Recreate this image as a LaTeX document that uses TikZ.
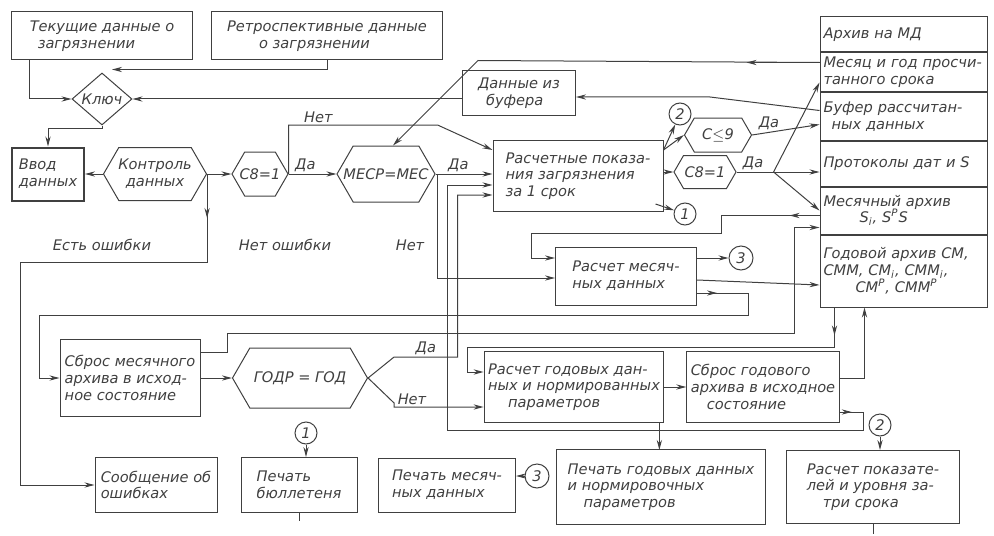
\documentclass[tikz,border=0pt]{standalone}
\usepackage{fontspec}
\setmainfont{DejaVu Sans}
\usepackage{tikz}
\usetikzlibrary{arrows.meta, shapes.geometric, shapes.symbols, positioning, calc}

\begin{document}
\begin{tikzpicture}[
    x=0.5pt, y=-0.5pt,
    line width=0.5pt, color=black!75,
    every node/.style={font=\fontsize{7.3}{8.4}\selectfont\itshape},
    box/.style={draw, rectangle, align=left, inner sep=2pt},
    abox/.style={box, minimum width=83.5pt, text width=80pt, inner xsep=1.5pt, inner ysep=1pt},
    hexa/.style={draw, signal, signal to=east and west, signal pointer angle=120,
        inner xsep=-4pt, inner ysep=1pt, align=center},
    keyd/.style={draw, diamond, aspect=1.15, inner sep=0.5pt, minimum width=30pt, minimum height=26pt},
    conn/.style={draw, circle, minimum size=11pt, inner sep=0pt},
    lbl/.style={inner sep=1pt},
    arr/.style={-{Stealth[length=5pt, width=2.6pt]}}
]
\useasboundingbox (0,0) rectangle (994,535);

% Sources and key
\node[box, minimum width=90.5pt, minimum height=24pt] (tek) at (102,36) {Текущие данные о\\\hspace{4pt}загрязнении};
\node[box, minimum width=115.5pt, minimum height=24pt] (retro) at (327,36) {Ретроспективные данные\\\hspace{16pt}о загрязнении};
\node[keyd] (kluch) at (102,99) {Ключ};
\node[box, minimum width=56.5pt, minimum height=22.5pt] (bufdata) at (519,93) {Данные из\\\hspace{4pt}буфера};

% Main row
\node[box, line width=1pt, minimum width=36pt, minimum height=26.5pt] (vvod) at (48,174) {Ввод\\данных};
\node[hexa, minimum width=51.5pt, minimum height=26.5pt] (kontr) at (155,174) {Контроль\\данных};
\node[hexa, minimum width=28pt, minimum height=22pt] (cA) at (260,174) {С8=1};
\node[hexa, inner xsep=-8pt, minimum width=49pt, minimum height=28pt] (mesr) at (386,174) {МЕСР=МЕС};
\node[box, minimum width=85pt, minimum height=35.5pt] (raschet) at (578,176) {Расчетные показа-\\ния загрязнения\\за 1 срок};
\node[conn] (c2a) at (680,114) {2};
\node[hexa, minimum width=33.5pt, minimum height=17pt] (cle9) at (718,135) {С$\le$9};
\node[hexa, minimum width=31pt, minimum height=16.5pt] (cB) at (705,172) {С8=1};
\node[conn] (c1a) at (685,214) {1};

% Archive
\node[abox, minimum height=17.5pt] (arch1) at (903.5,34.5) {Архив на МД};
\node[abox, minimum height=19.5pt, below=0pt of arch1] (arch2) {Месяц и год просчи-\\танного срока};
\node[abox, minimum height=23.5pt, below=0pt of arch2] (arch3) {Буфер рассчитан-\\\hspace{4pt}ных данных};
\node[abox, minimum height=22.5pt, below=0pt of arch3] (arch4) {Протоколы дат и S};
\node[abox, minimum height=23.5pt, below=0pt of arch4] (arch5) {Месячный архив\\\hspace{18pt}S\textsubscript{i}, S\textsuperscript{P}S};
\node[abox, minimum height=36pt, below=0pt of arch5] (arch6) {Годовой архив СМ,\\СММ, СМ\textsubscript{i}, СММ\textsubscript{i},\\\hspace{16pt}СМ\textsuperscript{P}, СММ\textsuperscript{P}};

% Monthly and yearly processing
\node[box, minimum width=70.5pt, minimum height=29pt] (mesdata) at (626,276) {Расчет месяч-\\ных данных};
\node[conn, minimum size=12pt] (c3a) at (741,258) {3};
\node[box, minimum width=70pt, minimum height=38.5pt] (sbrosm) at (130,378) {Сброс месячного\\архива в исход-\\ное состояние};
\node[hexa, minimum width=67.5pt, minimum height=30pt] (godr) at (300,378) {ГОДР = ГОД};
\node[box, minimum width=88pt, minimum height=35.5pt] (godrasch) at (574,387) {Расчет годовых дан-\\ных и нормированных\\\hspace{10pt}параметров};
\node[box, minimum width=75.5pt, minimum height=35.5pt] (sbrosg) at (763,387) {Сброс годового\\архива в исходное\\\hspace{8pt}состояние};
\node[conn] (c2b) at (880,425) {2};

% Outputs
\node[box, minimum width=61pt, minimum height=27.5pt] (err) at (156,485) {Сообщение об\\ошибках};
\node[conn] (c1b) at (306,433) {1};
\node[box, minimum width=58pt, minimum height=27.5pt] (bull) at (299,485) {Печать\\бюллетеня};
\node[box, minimum width=68.5pt, minimum height=27pt] (pmes) at (447,485) {Печать месяч-\\ных данных};
\node[conn, minimum size=12pt] (c3b) at (537,476) {3};
\node[box, minimum width=104.5pt, minimum height=37.5pt] (pgod) at (661,487) {Печать годовых данных\\и нормировочных\\\hspace{8pt}параметров};
\node[box, minimum width=86.5pt, minimum height=36.5pt] (ppok) at (873,487) {Расчет показате-\\лей и уровня за-\\\hspace{8pt}три срока};

% Free labels
\node[lbl] (oshyes) at (102,245) {Есть ошибки};
\node[lbl] (oshno) at (285,245) {Нет ошибки};
\node[lbl] (netb) at (410,245) {Нет};

% Key
\draw[arr] ($(tek.south west)+(18,0)$) |- (kluch.west);
\draw[arr] (retro.south) |- ($(kluch.north)+(10,-3)$);
\draw[arr] (bufdata.west |- kluch.east) -- (kluch.east);
\draw[arr] (kluch.south) -- ++(0,3) -| (vvod.north);

% Main row
\draw[arr] (kontr.west) -- (vvod.east);
\draw[arr] (kontr.east) -- (cA.west);
\draw[arr] (kontr.east) -- ++(0,44);
\draw[arr] (kontr.east) -- ++(0,88) -| ($(err.west)+(-74,-60)$) |- (err.west);
\draw[arr] (cA.east) -- node[lbl, above, pos=0.35] (daA) {Да} (mesr.west);
\draw[arr] (cA.east) -- ++(0,-49) -- node[lbl, above, pos=0.2] (netA) {Нет} ++(149,0) -- ($(raschet.north west)+(0,10)$);
\draw[arr] (mesr.east) -- node[lbl, above, pos=0.4] (daB) {Да} (mesr.east -| raschet.west);
\draw[arr] (mesr.east) -- ++(2,0) |- ($(mesdata.west)+(0,2)$);

% Outputs of the current calculation
\draw[arr] ($(raschet.north east)+(0,10)$) -- (c2a);
\draw[arr] ($(raschet.north east)+(0,10)$) -- (cle9.west);
\draw[arr] (raschet.east |- cB.west) -- (cB.west);
\draw[arr] ($(raschet.south east)+(-8,-8)$) -- (c1a);
\draw[arr] (cle9.east) -- node[lbl, above, pos=0.25] (daC) {Да} ($(arch3.west)+(0,8)$);
\draw[arr] (cB.east) -- node[lbl, above, pos=0.2] (daD) {Да} (cB.east -| arch4.west);
\coordinate (split) at ($(cB.east)+(37,0)$);
\draw[arr] (split) -- (arch5.west);
\draw[arr] (split) -- ($(arch2.west)+(0,10)$);

% Archive back to key and МЕСР
\draw[arr] ($(arch3.west)+(0,-6)$) -- ($(bufdata.east)+(134,4)$) -- ($(bufdata.east)+(0,4)$);
\draw[arr] ($(arch2.west)+(0,-10)$) -- ++(-73,0);
\draw[arr] ($(arch2.west)+(0,-10)$) -- ($(mesr.north)+(92,-85)$) -- ($(mesr.north)+(7,0)$);

% Monthly data
\draw[arr] ($(arch5.west)+(0,5)$) -- ++(-30,0);
\draw[arr] ($(arch5.west)+(0,5)$) -- ++(-98,0) -- ++(0,18) -| ($(mesdata.west)+(-24,-18)$) -- ($(mesdata.west)+(0,-18)$);
\draw[arr] (mesdata.east |- c3a.west) -- (c3a.west);
\draw[arr] ($(mesdata.east)+(0,4)$) -- ($(arch6.west)+(0,14)$);
\draw[arr] ($(mesdata.east)+(0,17)$) -- ++(20,0);
\draw[arr] ($(mesdata.east)+(0,17)$) -- ++(51,0) -- ++(0,22) -| ($(sbrosm.west)+(-20,0)$) -- (sbrosm.west);

% Monthly reset and year check
\draw[arr] ($(sbrosm.east)+(0,-26)$) -- ++(27,0) -- ++(0,-19) -| ($(arch5.west)+(-25,17)$) -- ($(arch5.west)+(0,17)$);
\draw[arr] (sbrosm.east |- godr.west) -- (godr.west);
\draw[arr] (godr.east) -- ++(26,-21) -| node[lbl, above, pos=0.25] (daE) {Да} ($(raschet.west)+(-35,19)$) -- ($(raschet.west)+(0,19)$);
\draw[arr] (godr.east) -- ++(26,25) |- node[lbl, above, pos=0.6] (netE) {Нет} ($(godrasch.west)+(0,20)$);

% Yearly data
\draw[arr] ($(arch6.south west)+(15,0)$) -- ++(0,28);
\draw[arr] ($(arch6.south west)+(15,0)$) -- ++(0,40) -| ($(godrasch.west)+(-16,-15)$) -- ($(godrasch.west)+(0,-15)$);
\draw[arr] (godrasch.east) -- (sbrosg.west);
\draw[arr] ($(sbrosg.east)+(0,-9)$) -| ($(arch6.south west)+(45,0)$);
\draw[arr] ($(sbrosg.east)+(0,25)$) -- ++(12,0);
\draw[arr] ($(sbrosg.east)+(0,25)$) -- ++(24,0) -- ++(0,18) -| ($(raschet.west)+(-45,9)$) -- ($(raschet.west)+(0,9)$);
\draw[arr] ($(godrasch.south east)+(-5,0)$) -- ++(0,27);

% Printing
\draw[arr] (c1b) -- (c1b |- bull.north);
\draw[arr] (c2b) -- (c2b |- ppok.north);
\draw[arr] (c3b) -- (c3b -| pmes.east);
\draw (bull.south) -- ++(0,8);
\draw (ppok.south) -- ++(0,10);
\end{tikzpicture}
\end{document}
